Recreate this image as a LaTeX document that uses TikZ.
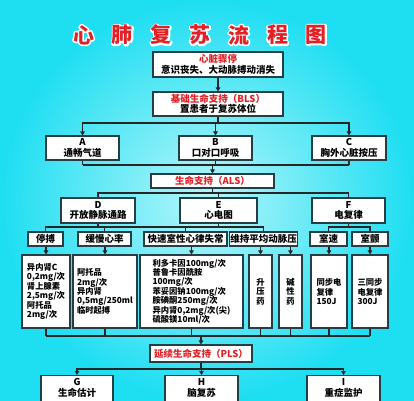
\documentclass[tikz,border=0pt]{standalone}
\usepackage{fontspec}
\setmainfont{Noto Sans CJK SC}
\usetikzlibrary{arrows.meta}
\definecolor{bgin}{RGB}{180,246,250}
\definecolor{bgout}{RGB}{30,222,242}
\definecolor{boxline}{RGB}{35,62,68}
\definecolor{cprred}{RGB}{228,32,38}
\newcommand\fsz[2]{\fontsize{#1}{#2}\selectfont}
\newcommand\redtxt[1]{\textcolor{cprred}{#1}}
\newcommand\whiteedge[1]{\special{pdf:literal direct 1 Tr 3 w 1 j 1 1 1 RG}#1\special{pdf:literal direct 0 Tr}}
\tikzset{
  box/.style={draw=boxline,line width=1.1pt,fill=white,inner sep=1pt,align=center,font=\bfseries\fsz{9.5}{10.5}},
  subbox/.style={box,minimum height=14pt},
  drug/.style={box,minimum height=73pt,align=left,font=\bfseries\fsz{8.3}{9.4}},
  link/.style={line width=1.1pt,black!85},
  arr/.style={link,-{Triangle[length=4pt,width=4.5pt]}},
  titlechar/.style={cprred,inner sep=0pt,font=\bfseries\fsz{21}{21}},
}
\begin{document}
\begin{tikzpicture}[x=1pt,y=-1pt]
	\useasboundingbox (0,0) rectangle (414,400);
	\clip (0,0) rectangle (414,400);
	\shade[inner color=bgin,outer color=bgout] (0,0) rectangle (414,400);
	% title
	\foreach \ch [count=\i from 0] in {心,肺,复,苏,流,程,图}{
		\node[titlechar] (title\i) at (83.5+38.8*\i,35) {\rlap{\whiteedge{\ch}}\ch};
	}
	% BLS
	\node[box,minimum width=130,minimum height=25] (arrest) at (218,64.5) {\redtxt{心脏骤停}\\意识丧失、大动脉搏动消失};
	\node[box,minimum width=130,minimum height=24] (bls) at (218,104) {\redtxt{基础生命支持（BLS）}\\置患者于复苏体位};
	\node[box,minimum width=73,minimum height=24] (ca) at (82.5,148) {A\\通畅气道};
	\node[box,minimum width=73,minimum height=24] (cb) at (215.5,148) {B\\口对口呼吸};
	\node[box,minimum width=74,minimum height=24] (cc) at (349,148) {C\\胸外心脏按压};
	% ALS
	\node[subbox,minimum width=123] (als) at (212.5,181) {\redtxt{生命支持（ALS）}};
	\node[box,minimum width=74,minimum height=25] (cd) at (98,210.5) {D\\开放静脉通路};
	\node[box,minimum width=77,minimum height=25] (ce) at (218.5,210.5) {E\\心电图};
	\node[box,minimum width=73,minimum height=25] (cf) at (348.5,210.5) {F\\电复律};
	\node[subbox,minimum width=35] (s1) at (45.5,239) {停搏};
	\node[subbox,minimum width=53] (s2) at (104.5,239) {缓慢心率};
	\node[subbox,minimum width=83] (s3) at (185.5,239) {快速室性心律失常};
	\node[subbox,minimum width=63] (s4) at (263.5,239) {维持平均动脉压};
	\node[subbox,minimum width=37] (s5) at (328.5,239) {室速};
	\node[subbox,minimum width=36] (s6) at (370,239) {室颤};
	\node[drug,minimum width=48] (d1) at (46,291.5) {异内肾C\\0,2mg/次\\肾上腺素\\2,5mg/次\\阿托品\\2mg/次};
	\node[drug,minimum width=64] (d2) at (105,291.5) {阿托品\\2mg/次\\异内肾\\0,5mg/250ml\\临时起搏};
	\node[drug,minimum width=103] (d3) at (191.5,291.5) {利多卡因100mg/次\\普鲁卡因酰胺\\100mg/次\\苯妥因钠100mg/次\\胺碘酮250mg/次\\异内肾0,2mg/次(尖)\\硫酸镁10ml/次};
	\node[drug,minimum width=23,align=center] (d4) at (260.5,291.5) {升\\压\\药};
	\node[drug,minimum width=23,align=center] (d5) at (290.5,291.5) {碱\\性\\药};
	\node[drug,minimum width=36] (d6) at (329,291.5) {同步电\\复律\\150J};
	\node[drug,minimum width=36] (d7) at (370,291.5) {三同步\\电复律\\300J};
	% PLS
	\node[subbox,minimum width=102,minimum height=17] (pls) at (201,353.5) {\redtxt{延续生命支持（PLS）}};
	\node[box,minimum width=72,inner ysep=3pt,anchor=north] (cg) at (77,375) {G\\生命估计\\[6pt]};
	\node[box,minimum width=73,inner ysep=3pt,anchor=north] (ch) at (201.5,375) {H\\脑复苏\\[6pt]};
	\node[box,minimum width=73,inner ysep=3pt,anchor=north] (ci) at (343.5,375) {I\\重症监护\\[6pt]};
	% connectors
	\coordinate (busA) at (0,123);
	\coordinate (busB) at (0,165);
	\coordinate (busC) at (0,193);
	\coordinate (busD) at (0,227);
	\coordinate (busE) at (0,336);
	\coordinate (busF) at (0,369);
	\draw[arr] (arrest) -- (bls);
	\draw[link] (bls.south) -- (bls.south|-busA);
	\foreach \n in {ca,cb,cc}{\draw[arr] (bls.south|-busA) -| (\n.north);}
	\foreach \n in {ca,cb,cc}{\draw[link] (\n.south) -- (\n.south|-busB);}
	\draw[link] (ca.south|-busB) -- (cc.south|-busB);
	\draw[arr] (als.north|-busB) -- (als.north);
	\draw[link] (als.south) -- (als.south|-busC);
	\foreach \n in {cd,ce,cf}{\draw[link] (als.south|-busC) -| (\n.north);}
	\foreach \n in {cd,ce,cf}{\draw[link] (\n.south) -- (\n.south|-busD);}
	\draw[link] (s1.north) |- (s4.north|-busD) -- (s4.north);
	\draw[link] (s2.north) -- (s2.north|-busD);
	\draw[link] (s3.north) -- (s3.north|-busD);
	\draw[link] (s5.north) |- (s6.north|-busD) -- (s6.north);
	\foreach \s/\d in {s1/d1,s2/d2,s3/d3,s4/d4,s4/d5,s5/d6,s6/d7}{\draw[arr] (\d.north|-\s.south) -- (\d.north);}
	\foreach \n in {d1,d2,d3,d4,d5,d6,d7}{\draw[link] (\n.south) -- (\n.south|-busE);}
	\draw[link] (d1.south|-busE) -- (d7.south|-busE);
	\draw[arr] (pls.north|-busE) -- (pls.north);
	\draw[link] (pls.south) -- (pls.south|-busF);
	\foreach \n in {cg,ch,ci}{\draw[arr] (pls.south|-busF) -| (\n.north);}
\end{tikzpicture}
\end{document}
